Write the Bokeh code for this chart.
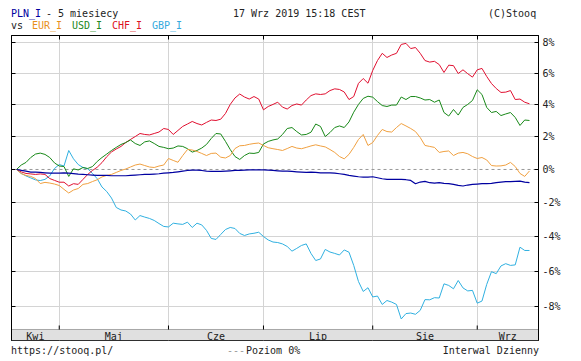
import numpy as np
import pandas as pd
from bokeh.plotting import figure
from bokeh.layouts import column
from bokeh.models import (ColumnDataSource, Range1d, FixedTicker, LinearAxis, Span,
                          BoxAnnotation, CustomJSTickFormatter, Div)
from bokeh.core.properties import value
from bokeh.embed import file_html
from bokeh.resources import INLINE

# ---------------- data ----------------
dates = pd.bdate_range("2019-04-18", "2019-09-17")   # daily interval, trading days
month_labels = ["Kwi", "Maj", "Cze", "Lip", "Sie", "Wrz"]
y_ticks_pct = [-8, -6, -4, -2, 0, 2, 4, 6, 8]

pln = [0, -0.05, -0.1, -0.16, -0.16, -0.18, -0.2, -0.22, -0.22, -0.22,
       -0.2, -0.22, -0.25, -0.28, -0.3, -0.32, -0.34, -0.36, -0.36, -0.36,
       -0.38, -0.38, -0.38, -0.38, -0.36, -0.34, -0.32, -0.3, -0.3, -0.28,
       -0.26, -0.22, -0.2, -0.18, -0.14, -0.1, -0.06, -0.04, -0.04, -0.06,
       -0.1, -0.12, -0.12, -0.12, -0.1, -0.08, -0.06, -0.06, -0.04, -0.02,
       -0.02, -0.02, -0.02, -0.04, -0.06, -0.08, -0.1, -0.1, -0.12, -0.14,
       -0.16, -0.18, -0.16, -0.18, -0.2, -0.2, -0.2, -0.22, -0.26, -0.3,
       -0.36, -0.4, -0.44, -0.46, -0.46, -0.44, -0.5, -0.56, -0.6, -0.6,
       -0.6, -0.6, -0.62, -0.66, -0.86, -0.76, -0.72, -0.8, -0.82, -0.8,
       -0.84, -0.86, -0.9, -0.96, -1.0, -0.94, -0.9, -0.88, -0.86, -0.86,
       -0.84, -0.8, -0.76, -0.74, -0.74, -0.72, -0.7, -0.76, -0.8]

eur = [0, -0.25, -0.36, -0.42, -0.55, -0.85, -0.78, -0.82, -0.88, -0.97,
       -1.2, -1.42, -1.24, -1.15, -0.9, -0.85, -0.73, -0.62, -0.45, -0.36,
       -0.3, -0.18, -0.06, 0.03, 0.15, 0.27, 0.33, 0.24, 0.15, 0.12,
       0.21, 0.27, 0.67, 0.55, 0.44, 0.85, 1.22, 1.19, 1.1, 0.98,
       0.85, 0.98, 1.0, 0.75, 0.7, 0.85, 1.28, 1.45, 1.47, 1.54,
       1.59, 1.62, 1.47, 1.33, 1.27, 1.22, 1.16, 1.28, 1.41, 1.31,
       1.27, 1.35, 1.44, 1.51, 1.44, 1.38, 1.22, 1.04, 0.79, 0.65,
       0.92, 1.35, 1.84, 2.15, 1.47, 1.65, 2.09, 2.46, 2.33, 2.3,
       2.58, 2.83, 2.68, 2.52, 2.33, 1.96, 1.47, 1.41, 1.35, 1.04,
       1.1, 1.13, 0.85, 1.0, 1.04, 0.96, 0.79, 0.67, 0.73, 0.58,
       0.24, 0.21, 0.22, 0.27, 0.43, 0.18, -0.24, -0.42, -0.09]

usd = [0, 0.27, 0.43, 0.73, 0.94, 1.0, 0.92, 0.73, 0.4, 0.21,
       0.18, -0.42, 0.04, -0.03, 0.12, 0.06, 0.18, 0.49, 0.73, 0.94,
       1.16, 1.35, 1.53, 1.65, 1.81, 1.59, 1.47, 1.69, 1.75, 1.59,
       1.41, 1.35, 1.27, 1.31, 1.44, 1.41, 1.27, 1.06, 1.16, 1.31,
       1.53, 1.9, 2.21, 2.18, 1.72, 1.22, 0.79, 0.61, 0.85, 1.0,
       0.98, 1.04, 1.56, 1.72, 1.81, 1.87, 2.15, 2.52, 2.58, 2.33,
       2.12, 2.15, 2.29, 2.8, 2.65, 2.02, 2.27, 2.58, 2.68, 2.58,
       2.93, 3.54, 4.03, 4.41, 4.55, 4.49, 4.21, 3.96, 3.9, 3.99,
       3.99, 4.5, 4.34, 4.53, 4.53, 4.44, 4.31, 4.34, 4.17, 4.31,
       3.52, 3.3, 3.71, 3.36, 3.84, 4.03, 4.28, 4.96, 4.66, 3.84,
       3.52, 3.59, 3.33, 3.43, 3.52, 3.21, 2.71, 3.05, 3.02]

chf = [0, -0.15, -0.24, -0.27, -0.3, -0.27, -0.3, -0.55, -0.66, -0.77,
       -0.77, -1.0, -0.86, -0.9, -0.6, -0.3, -0.06, 0.14, 0.42, 0.78,
       1.07, 1.25, 1.41, 1.65, 1.84, 2.02, 2.21, 2.15, 2.12, 2.21,
       2.3, 2.52, 2.46, 2.15, 2.4, 2.65, 2.8, 2.96, 2.83, 2.74,
       2.9, 3.05, 3.02, 3.1, 3.46, 4.03, 4.44, 4.69, 4.5, 4.37,
       4.53, 4.37, 3.69, 3.9, 4.03, 4.17, 3.86, 3.74, 3.96, 4.06,
       3.99, 4.31, 4.59, 4.7, 4.66, 4.7, 4.91, 5.02, 4.98, 4.82,
       4.34, 4.53, 5.37, 5.68, 5.38, 6.2, 6.84, 7.31, 7.04, 7.2,
       7.31, 7.89, 7.96, 7.62, 7.69, 7.31, 6.84, 6.74, 6.79, 6.58,
       6.07, 6.54, 6.51, 6.0, 6.24, 5.99, 5.77, 6.24, 6.33, 5.81,
       5.36, 5.04, 4.79, 4.81, 4.91, 4.34, 4.37, 4.17, 4.07]

gbp = [0, -0.24, -0.39, -0.51, -0.63, -0.67, -0.6, -0.39, 0.06, 0.3,
       0.21, 1.16, 0.65, 0.3, 0.12, 0.04, -0.24, -0.56, -1.06, -1.33,
       -1.72, -2.28, -2.43, -2.49, -2.67, -3.02, -2.76, -2.85, -2.93, -3.05,
       -3.23, -3.4, -3.43, -3.21, -3.25, -3.28, -3.15, -3.46, -3.21, -3.31,
       -3.63, -4.1, -4.16, -3.87, -3.58, -3.46, -3.52, -3.81, -3.93, -3.84,
       -3.8, -3.74, -3.99, -4.19, -4.31, -4.34, -4.42, -4.57, -4.84, -4.68,
       -4.51, -4.42, -4.97, -5.38, -5.29, -4.74, -4.89, -4.97, -5.06, -4.77,
       -4.9, -5.66, -6.58, -7.14, -6.93, -7.45, -7.4, -7.87, -7.65, -7.74,
       -7.87, -8.68, -8.38, -8.35, -8.42, -8.2, -7.6, -7.61, -7.49, -7.51,
       -6.71, -6.8, -6.99, -6.52, -6.94, -7.11, -7.08, -7.8, -7.68, -6.74,
       -6.02, -6.13, -5.69, -5.56, -5.66, -5.63, -4.61, -4.8, -4.8]

header_line1 = ["PLN_I", "- 5 miesiecy", "17 Wrz 2019 15:18 CEST", "(C)Stooq"]
header_line2 = ["vs", "EUR_I", "USD_I", "CHF_I", "GBP_I"]
footer_texts = ["https://stooq.pl/", "---", "Poziom 0%", "Interwal Dzienny"]

# ---------------- styling ----------------
FONT = "DejaVu Sans Mono"
FS = "10px"
TXT = "#222222"
C_PLN = "#0000a0"
C_EUR = "#f0a040"
C_USD = "#188818"
C_CHF = "#e01030"
C_GBP = "#30b0e0"
T_EUR = "#e8901a"
T_USD = "#228822"
T_CHF = "#dd1122"
T_GBP = "#33aadd"
W = 581
H_HEAD, H_MAIN, H_FOOT = 33, 308, 20
BL, BR = 11, 43
PX_PER_LOG = 1646.5      # vertical pixels per unit of ln(ratio)

n = len(dates)
idx = np.arange(n)
month_starts = [i for i in range(1, n) if dates[i].month != dates[i - 1].month]

x0, x1 = -1.05, 109.9
bounds = [x0] + month_starts + [x1]
month_centers = [(bounds[k] + bounds[k + 1]) / 2 for k in range(len(bounds) - 1)]

# log (ratio) scale, as on the original
y_top, y_bottom, band_top = 1.08478, 0.90134, 0.90739
band_text_y = y_bottom * np.exp(4.0 / PX_PER_LOG)
tick_top_y = band_top * np.exp(4.0 / PX_PER_LOG)

src = ColumnDataSource(dict(
    x=idx,
    pln=1 + np.array(pln) / 100.0,
    eur=1 + np.array(eur) / 100.0,
    usd=1 + np.array(usd) / 100.0,
    chf=1 + np.array(chf) / 100.0,
    gbp=1 + np.array(gbp) / 100.0,
))


def span_html(text, color, left=None, right=None, top=0.0):
    pos = f"left:{left}px;" if left is not None else f"right:{right}px;"
    return (f'<span style="position:absolute;{pos}top:{top}px;color:{color};'
            f'white-space:pre;">{text}</span>')


def text_div(height, spans):
    html = (f'<div style="position:relative;width:{W}px;height:{height}px;'
            f"font-family:'{FONT}';font-size:{FS};line-height:10px;\">"
            + "".join(spans) + "</div>")
    return Div(text=html, width=W, height=height, margin=(0, 0, 0, 0))


# ---------------- header ----------------
h_left = [11, 46, 233, 488, 11, 32, 72, 112, 152]
h_top = [8.5, 8.5, 8.5, 8.5, 20.5, 20.5, 20.5, 20.5, 20.5]
h_col = [C_PLN, TXT, TXT, TXT, TXT, T_EUR, T_USD, T_CHF, T_GBP]
head = text_div(H_HEAD, [span_html(t, c, left=l, top=tp) for t, c, l, tp in
                         zip(header_line1 + header_line2, h_col, h_left, h_top)])

# ---------------- main chart ----------------
p = figure(width=W, height=H_MAIN, x_range=Range1d(x0, x1), y_range=Range1d(y_bottom, y_top),
           y_axis_type="log", y_axis_location="right", x_axis_location=None,
           output_backend="svg", toolbar_location=None, min_border_left=BL,
           min_border_right=BR, min_border_top=2, min_border_bottom=1)
p.outline_line_color = "black"
p.background_fill_color = "white"
p.border_fill_color = "white"

yt = [1 + v / 100.0 for v in y_ticks_pct]

p.xgrid.ticker = FixedTicker(ticks=month_starts)
p.ygrid.ticker = FixedTicker(ticks=[v for v, q in zip(yt, y_ticks_pct) if q != 0])
for g in (p.xgrid, p.ygrid):
    g.grid_line_color = "#d4d4d4"
    g.grid_line_width = 1

ya = p.yaxis[0]
ya.ticker = FixedTicker(ticks=yt)
ya.formatter = CustomJSTickFormatter(code="return Math.round((tick - 1) * 100) + '%';")
ya.major_tick_in = 4
ya.major_tick_out = 0
ya.major_tick_line_color = "black"
ya.minor_tick_line_color = None
ya.major_label_standoff = 4
ya.axis_line_color = "black"
ya.major_label_text_font = FONT
ya.major_label_text_font_size = FS
ya.major_label_text_color = TXT

ta = LinearAxis(ticker=FixedTicker(ticks=month_starts), major_tick_in=4, major_tick_out=0,
                major_label_text_font_size="0px", major_label_text_color=None,
                major_label_standoff=0, minor_tick_line_color=None, axis_line_color="black")
p.add_layout(ta, "above")
la = LinearAxis(ticker=FixedTicker(ticks=yt), major_tick_in=4, major_tick_out=0,
                major_label_text_font_size="0px", major_label_text_color=None,
                major_label_standoff=0, minor_tick_line_color=None, axis_line_color="black")
p.add_layout(la, "left")

p.add_layout(Span(location=1.0, dimension="width", line_color="#999999",
                  line_dash="3 3", line_width=1, level="underlay"))

# month band at the bottom of the frame (under the month names)
p.add_layout(BoxAnnotation(top=band_top, fill_color="#e0e0e0", fill_alpha=1.0,
                           line_color="black", line_width=1, level="underlay"))

p.line("x", "gbp", source=src, line_color=C_GBP, line_width=1)
p.line("x", "chf", source=src, line_color=C_CHF, line_width=1)
p.line("x", "usd", source=src, line_color=C_USD, line_width=1)
p.line("x", "eur", source=src, line_color=C_EUR, line_width=1)
p.line("x", "pln", source=src, line_color=C_PLN, line_width=1.2)

# month-start tick marks just above the band
tsrc = ColumnDataSource(dict(x=month_starts, y0=[band_top] * len(month_starts),
                             y1=[tick_top_y] * len(month_starts)))
p.segment(x0="x", y0="y0", x1="x", y1="y1", source=tsrc, line_color="black", line_width=1)

msrc = ColumnDataSource(dict(x=month_centers, y=[band_text_y] * len(month_labels), t=month_labels))
p.text(x="x", y="y", text="t", source=msrc, text_font=value(FONT), text_font_size=FS,
       text_color=TXT, text_align="center", text_baseline="alphabetic")

# ---------------- footer ----------------
f_col = [TXT, "#999999", TXT, TXT]
foot = text_div(H_FOOT, [
    span_html(footer_texts[0], f_col[0], left=11, top=4.5),
    span_html(footer_texts[1], f_col[1], left=227, top=4.5),
    span_html(footer_texts[2], f_col[2], left=246, top=4.5),
    span_html(footer_texts[3], f_col[3], right=W - 539, top=4.5),
])

layout = column(head, p, foot, spacing=0)
open("out.html", "w").write(file_html(layout, INLINE))
